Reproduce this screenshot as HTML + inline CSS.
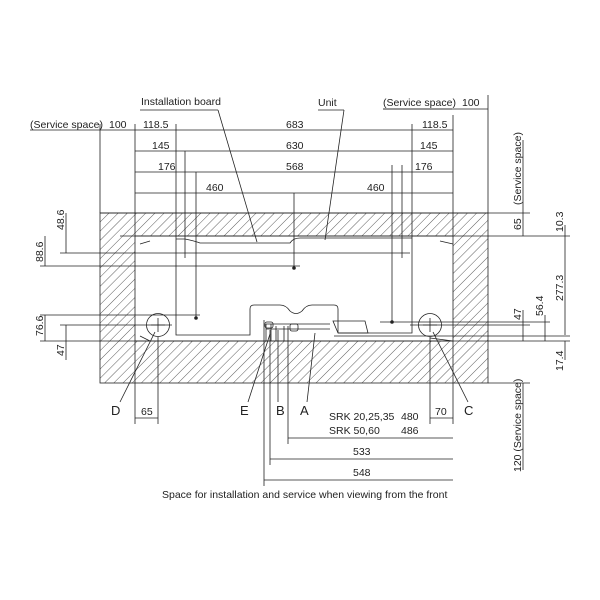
<!DOCTYPE html>
<html><head><meta charset="utf-8"><style>
html,body{margin:0;padding:0;background:#fff}
svg{display:block}
text{font-family:"Liberation Sans",sans-serif;font-size:10.5px;fill:#222}
</style></head><body>
<svg width="600" height="600" viewBox="0 0 600 600" xmlns="http://www.w3.org/2000/svg">
<defs>
<pattern id="h" patternUnits="userSpaceOnUse" width="6.5" height="6.5" patternTransform="rotate(45)">
<line x1="0" y1="0" x2="0" y2="6.5" stroke="#333" stroke-width="0.8"/>
</pattern>
</defs>
<g stroke="#222" stroke-width="0.8" fill="none">
<path d="M100 213H488V383H100Z M135 236V341H453V236Z" fill="url(#h)" fill-rule="evenodd" stroke="none"/>
<rect x="100" y="213" width="388" height="170"/>
<rect x="135" y="236" width="318" height="105"/>
<path d="M176 239V335H250V309Q250 305 254 305H280Q286 305 290 311Q296 316 302 311Q306 305 312 305H334Q338 305 338 309V333 M338 333H412V239"/>
<path d="M176 239H185Q195 241 200 243H290Q293 238 300 238H412"/>
<path d="M140 244L150 241 M440 241L453 244 M140 336L150 341 M430 338L453 341"/>
<path d="M266 324H330 M266 329H330 M333 321H365L368 333H338Z M266 324V341 M271 324V341 M276 326V341 M284 326V341"/>
<rect x="265" y="322" width="8" height="6" rx="2"/>
<rect x="290" y="324" width="8" height="7" rx="2"/>
<path d="M383 109H488 M30 130H453 M135 151H453 M135 172H453 M135 193H453"/>
<path d="M100 124V213 M135 124V236 M176 124V239 M412 124V239 M453 115V236 M488 95V213"/>
<path d="M185 151V258 M196 172V318 M294 193V268 M402 165V258 M392 165V322"/>
<path d="M100 213H530 M120 236H570 M60 253H410 M40 266H300 M40 315H200 M60 325H172 M410 325H530 M380 322H550 M40 341H570 M334 336H570 M488 383H530"/>
<path d="M66 213V253 M45 236V266 M45 315V341 M66 325V360"/>
<path d="M523 140V236 M565 225V240 M565 239V335 M545 315V341 M523 310V341 M565 341V360 M523 383V470"/>
<circle cx="158" cy="325" r="11.5"/>
<circle cx="430" cy="325" r="11.5"/>
<path d="M158 318V332 M151 325H165 M430 318V332 M423 325H437"/>
<path d="M155 332L120 402 M433 332L468 402 M270 334L248 402 M278 330V402 M315 333L307 402 M218 110L257 242 M344 110L325 240"/>
<path d="M135 341V424 M158 337V424 M430 337V424 M453 341V424 M264 320V486 M270 330V465 M288 326V444"/>
<path d="M135 418H158 M430 418H453 M288 438H453 M270 459H453 M264 480H453"/>
<path d="M140 110H218 M318 110H344 M383 109H452"/>
</g>
<g fill="#222">
<circle cx="294" cy="268" r="1.8"/><circle cx="196" cy="318" r="1.8"/><circle cx="392" cy="322" r="1.8"/>
</g>
<text x="141" y="105">Installation board</text>
<text x="318" y="106">Unit</text>
<text x="383" y="106">(Service space)</text>
<text x="462" y="106">100</text>
<text x="30" y="128">(Service space)</text>
<text x="109" y="128">100</text>
<text x="143" y="128">118.5</text>
<text x="286" y="128">683</text>
<text x="422" y="128">118.5</text>
<text x="152" y="149">145</text>
<text x="286" y="149">630</text>
<text x="420" y="149">145</text>
<text x="158" y="170">176</text>
<text x="286" y="170">568</text>
<text x="415" y="170">176</text>
<text x="206" y="191">460</text>
<text x="367" y="191">460</text>
<text transform="translate(64,230) rotate(-90)">48.6</text>
<text transform="translate(43,262) rotate(-90)">88.6</text>
<text transform="translate(43,336) rotate(-90)">76.6</text>
<text transform="translate(64,356) rotate(-90)">47</text>
<text transform="translate(521,230) rotate(-90)">65</text>
<text transform="translate(521,205) rotate(-90)">(Service space)</text>
<text transform="translate(563,232) rotate(-90)">10.3</text>
<text transform="translate(563,301) rotate(-90)">277.3</text>
<text transform="translate(543,316) rotate(-90)">56.4</text>
<text transform="translate(521,320) rotate(-90)">47</text>
<text transform="translate(563,371) rotate(-90)">17.4</text>
<text transform="translate(521,472) rotate(-90)">120 (Service space)</text>
<text x="111" y="415" style="font-size:13px">D</text>
<text x="240" y="415" style="font-size:13px">E</text>
<text x="276" y="415" style="font-size:13px">B</text>
<text x="300" y="415" style="font-size:13px">A</text>
<text x="464" y="415" style="font-size:13px">C</text>
<text x="141" y="415">65</text>
<text x="435" y="415">70</text>
<text x="329" y="420">SRK 20,25,35</text><text x="401" y="420">480</text>
<text x="329" y="434">SRK 50,60</text><text x="401" y="434">486</text>
<text x="353" y="455">533</text>
<text x="353" y="476">548</text>
<text x="162" y="498">Space for installation and service when viewing from the front</text>
</svg>
</body></html>
